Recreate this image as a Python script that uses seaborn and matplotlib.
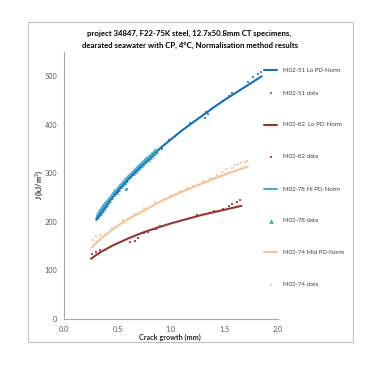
import matplotlib
matplotlib.use("Agg")
import matplotlib.pyplot as plt
import pandas as pd
import seaborn as sns
from matplotlib.lines import Line2D
from matplotlib.patches import Rectangle

# ---------------- data ----------------
m51_fit_x = [0.30, 0.35, 0.40, 0.45, 0.50, 0.60, 0.70, 0.80, 0.90, 1.00, 1.10, 1.20,
             1.30, 1.40, 1.50, 1.60, 1.70, 1.85]
m51_fit_y = [204, 221, 236, 250, 263, 288, 311, 332, 352, 370, 388, 404,
             420, 436, 451, 465, 479, 500]
m51_dat_x = [0.32, 0.40, 0.50, 0.58, 0.59, 0.65, 0.75, 0.85, 0.92, 0.98, 1.04, 1.18,
             1.32, 1.35, 1.33, 1.49, 1.54, 1.57, 1.72, 1.77, 1.82, 1.84]
m51_dat_y = [210, 236, 262, 266, 268, 296, 320, 343, 351, 368, 376, 403,
             415, 422, 427, 450, 459, 465, 488, 498, 504, 509]

m82_fit_x = [0.25, 0.30, 0.35, 0.40, 0.45, 0.50, 0.55, 0.60, 0.70, 0.80, 0.90, 1.00,
             1.10, 1.20, 1.30, 1.40, 1.50, 1.60, 1.66]
m82_fit_y = [124, 132, 139, 145, 151, 156, 161, 166, 175, 183, 190, 197,
             203, 209, 215, 220, 225, 230, 233]
m82_dat_x = [0.26, 0.30, 0.33, 0.62, 0.66, 0.69, 0.75, 0.78, 0.86, 0.90,
             1.24, 1.40, 1.49, 1.54, 1.57, 1.62, 1.65]
m82_dat_y = [134, 138, 143, 158, 161, 167, 177, 179, 186, 191,
             215, 222, 227, 232, 237, 242, 246]

m78_fit_x = [0.31, 0.40, 0.50, 0.60, 0.70, 0.80, 0.86]
m78_fit_y = [214, 241, 269, 293, 315, 335, 347]
m78_dat_x = [0.31, 0.32, 0.33, 0.34, 0.35, 0.36, 0.37, 0.38, 0.39, 0.40, 0.42,
             0.44, 0.46, 0.48, 0.50, 0.52, 0.54, 0.56, 0.58, 0.60, 0.62, 0.64,
             0.66, 0.68, 0.70, 0.72, 0.74, 0.76, 0.78, 0.80, 0.82, 0.84, 0.86]
m78_dat_y = [213, 217, 219, 222, 225, 228, 231, 234, 237, 240, 246,
             252, 257, 262, 268, 273, 278, 282, 287, 292, 296, 301,
             305, 310, 314, 318, 322, 326, 330, 334, 338, 342, 346]
m78_dat_x2 = [0.315, 0.325, 0.335, 0.345, 0.355, 0.365, 0.375, 0.385, 0.395, 0.41,
              0.43, 0.45, 0.47, 0.49, 0.51, 0.53, 0.55, 0.57, 0.59, 0.61, 0.63,
              0.65, 0.67, 0.69, 0.71, 0.73, 0.75, 0.77, 0.79, 0.81, 0.83, 0.85]
m78_dat_y2 = [219, 222, 225, 228, 231, 234, 237, 239, 242, 247, 252,
              258, 263, 268, 273, 279, 283, 288, 293, 297, 302, 306,
              311, 315, 320, 324, 328, 332, 336, 340, 344, 348]

m74_fit_x = [0.26, 0.30, 0.35, 0.40, 0.45, 0.50, 0.60, 0.70, 0.80, 0.90, 1.00, 1.10,
             1.20, 1.30, 1.40, 1.50, 1.60, 1.72]
m74_fit_y = [148, 157, 167, 176, 184, 192, 206, 218, 230, 242, 252, 262,
             271, 280, 289, 297, 305, 314]
m74_dat_x = [0.27, 0.30, 0.335, 0.45, 0.55, 0.65, 0.75, 0.85, 0.93, 0.99, 1.085,
             1.15, 1.21, 1.30, 1.365, 1.43, 1.475, 1.52, 1.57, 1.60, 1.63, 1.66,
             1.69, 1.71]
m74_dat_y = [163, 170, 174, 188, 203, 216, 228, 240, 247, 253, 264,
             269, 275, 285, 291, 296, 302, 308, 312, 317, 319, 321,
             324, 326]

labels = ["M02-51 Lo PD-Norm", "M02-51 data", "M02-82  Lo PD-Norm", "M02-82 data",
          "M02-78 Hi PD-Norm", "M02-78 data", "M02-74 Mid PD-Norm", "M02-74 data"]
x_ticks = [0.0, 0.5, 1.0, 1.5, 2.0]
y_ticks = [0, 100, 200, 300, 400, 500]

# ---------------- style ----------------
sns.set_style("white")
plt.rcParams['font.family'] = ['Lato', 'DejaVu Sans']

c_blue = "#0f6fc1"
c_blue_d = "#3a8fd6"
c_red = "#943634"
c_red_d = "#b04a48"
c_cyan = "#4bacc6"
c_orange = "#fac090"
c_orange_d = "#f9c9a0"

W, H = 376, 367
fig = plt.figure(figsize=(W / 100, H / 100), dpi=100)

def fx(px):
    return px / W

def fy(py):
    return 1 - py / H

# outer chart border
fig.add_artist(Rectangle((fx(28), fy(342)), fx(353) - fx(28), fy(22) - fy(342),
                         transform=fig.transFigure, fill=False,
                         edgecolor="#c0c0c0", linewidth=0.8))

ax = fig.add_axes([fx(64.3), fy(319), fx(277.7) - fx(64.3), fy(52) - fy(319)])

def line(xs, ys, color):
    df = pd.DataFrame({"x": xs, "y": ys})
    sns.lineplot(data=df, x="x", y="y", ax=ax, color=color, linewidth=1.5,
                 sort=False, estimator=None)

def dots(xs, ys, color, marker="s", s=2.5):
    df = pd.DataFrame({"x": xs, "y": ys})
    sns.scatterplot(data=df, x="x", y="y", ax=ax, color=color, marker=marker,
                    s=s, linewidth=0)

line(m51_fit_x, m51_fit_y, c_blue)
dots(m51_dat_x, m51_dat_y, c_blue_d)
line(m82_fit_x, m82_fit_y, c_red)
dots(m82_dat_x, m82_dat_y, c_red_d)
line(m78_fit_x, m78_fit_y, c_cyan)
dots(m78_dat_x, m78_dat_y, c_cyan, marker="^", s=13)
dots(m78_dat_x2, m78_dat_y2, c_cyan, marker="^", s=13)
line(m74_fit_x, m74_fit_y, c_orange)
dots(m74_dat_x, m74_dat_y, c_orange_d)

ax.set_xlim(0, 2.0)
ax.set_ylim(0, 550)
ax.set_xticks(x_ticks)
ax.set_xticklabels([f"{v:.1f}" for v in x_ticks])
ax.set_yticks(y_ticks)
ax.set_yticklabels([str(v) for v in y_ticks])
for sp in ["top", "right"]:
    ax.spines[sp].set_visible(False)
for sp in ["left", "bottom"]:
    ax.spines[sp].set_color("#a6a6a6")
    ax.spines[sp].set_linewidth(0.8)
ax.tick_params(axis="both", direction="out", length=3, width=0.6,
               color="#a6a6a6", labelsize=5.2, labelcolor="#595959", pad=2)
ax.set_xlabel("")
ax.set_ylabel("")

fig.text(fx(170), fy(337), "Crack growth (mm)", ha="center", va="center",
         fontsize=5.2, fontweight="bold", color="#262626")
fig.text(fx(39), fy(185), "J (kJ/m$^2$)", ha="center", va="center", rotation=90,
         fontsize=5.2, fontweight="bold", color="#262626")

fig.text(fx(189), fy(33), "project 34847, F22-75K steel, 12.7x50.8mm CT specimens,",
         ha="center", va="center", fontsize=5.6, fontweight="bold", color="black")
fig.text(fx(190), fy(45), "dearated seawater with CP, 4°C, Normalisation method results",
         ha="center", va="center", fontsize=5.6, fontweight="bold", color="black")

# legend (manual, matching uneven spacing)
leg_y = [70, 93, 125, 157, 189, 221, 252, 285]
styles = [("line", c_blue), ("dot", c_blue_d), ("line", c_red), ("dot", c_red_d),
          ("line", c_cyan), ("tri", c_cyan), ("line", c_orange), ("dot", c_orange_d)]
for lab, yy, (kind, col) in zip(labels, leg_y, styles):
    if kind == "line":
        fig.add_artist(Line2D([fx(264), fx(277)], [fy(yy), fy(yy)],
                              transform=fig.transFigure, color=col, linewidth=1.5))
    elif kind == "dot":
        fig.add_artist(Line2D([fx(270.5)], [fy(yy)], transform=fig.transFigure,
                              color=col, marker="s", markersize=1.6, linestyle="none",
                              markeredgewidth=0))
    else:
        fig.add_artist(Line2D([fx(270.5)], [fy(yy)], transform=fig.transFigure,
                              color=col, marker="^", markersize=3.5, linestyle="none",
                              markeredgewidth=0))
    fig.text(fx(283), fy(yy), lab, ha="left", va="center", fontsize=4.4,
             color="#404040")

fig.savefig("out.png", dpi=100)
